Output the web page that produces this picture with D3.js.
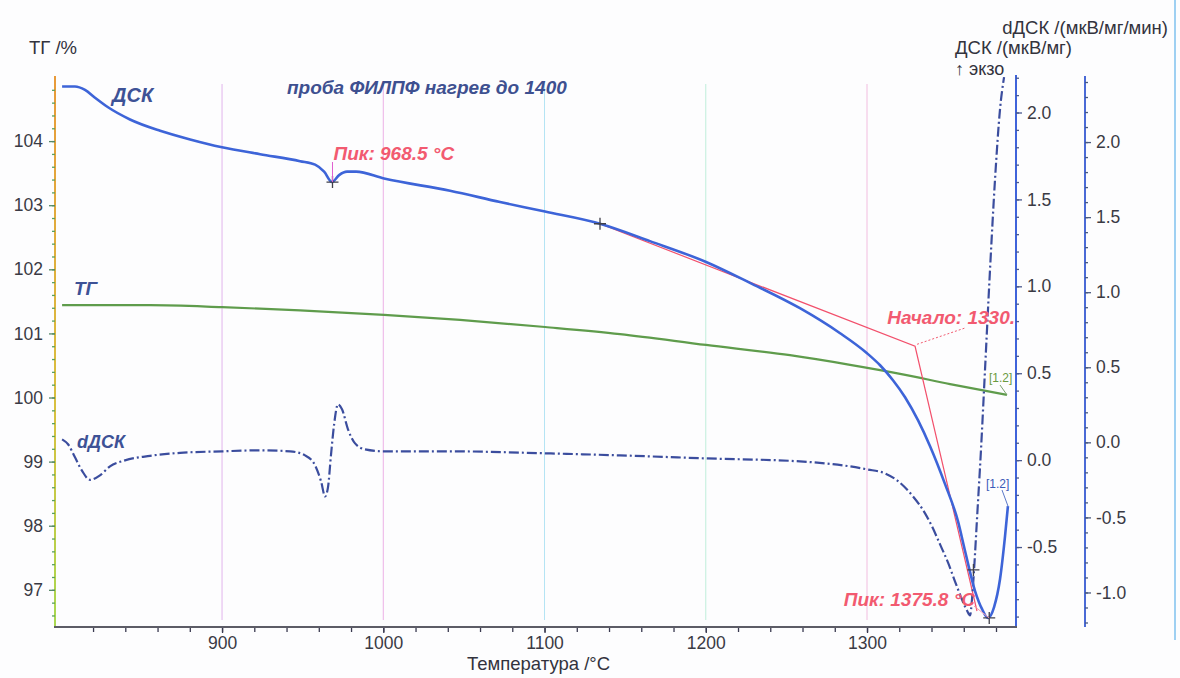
<!DOCTYPE html>
<html>
<head>
<meta charset="utf-8">
<script src="https://cdn.jsdelivr.net/npm/d3@7"></script>
<style>
  body { margin: 0; background: #fdfdfe; }
  svg { display: block; font-family: "Liberation Sans", Arial, sans-serif; }
</style>
</head>
<body>
<div id="chart"></div>
<script>
// Temperature (°C) / value pairs.
var dscT = [800.8, 808.8, 815.0, 821.2, 829.3, 842.9, 861.6, 880.2, 900, 923.6, 948.4, 957.7, 963.3, 968.2, 972.6,
    977.5, 983.1, 1000.5, 1041.4, 1072.4, 1100.3, 1134.4, 1165.4, 1200.2, 1227.4, 1258.4, 1283.3, 1300,
    1308.1, 1316.1, 1323.6, 1331.6, 1339.1, 1348.4, 1356.4, 1360.8, 1367.0, 1371.3, 1375.0, 1378.8, 1382.5, 1385.6, 1387.4];
var dscV = [2.15, 2.15, 2.13, 2.085, 2.03, 1.96, 1.895, 1.845, 1.80, 1.76, 1.72, 1.70, 1.66, 1.60, 1.64,
    1.66, 1.66, 1.62, 1.55, 1.485, 1.43, 1.36, 1.26, 1.14, 1.02, 0.874, 0.730, 0.615,
    0.546, 0.460, 0.362, 0.230, 0.080, -0.138, -0.351, -0.523, -0.753, -0.856, -0.908, -0.845, -0.684, -0.437, -0.264];

var ddscT = [800.8, 804.5, 808.8, 813.2, 818.1, 824.3, 830.5, 839.8, 855.3, 874.0, 900, 923.6, 942.2, 951.5, 957.7,
    961.4, 963.9, 965.7, 967.6, 969.5, 971.9, 974.4, 978.1, 982.5, 988.7, 1000.5, 1041.4, 1100.3, 1146.8, 1200.2,
    1258.4, 1300, 1311.2, 1318.6, 1328.5, 1336.0, 1340.3, 1345.3, 1350.2, 1354.6, 1358.9, 1362.0, 1363.9, 1365.1,
    1366.4, 1368.2, 1370.7, 1373.2, 1376.3, 1379.4, 1382.5, 1385.0];
var ddscV = [0.02, -0.013, -0.10, -0.19, -0.25, -0.22, -0.16, -0.12, -0.09, -0.07, -0.06, -0.053, -0.06, -0.087, -0.153,
    -0.26, -0.36, -0.30, -0.08, 0.12, 0.253, 0.22, 0.087, -0.007, -0.047, -0.06, -0.06, -0.073, -0.087, -0.107,
    -0.127, -0.18, -0.207, -0.253, -0.36, -0.473, -0.56, -0.68, -0.80, -0.927, -1.047, -1.12, -1.153, -1.047,
    -0.847, -0.513, -0.047, 0.487, 1.153, 1.753, 2.22, 2.433];

var tgT = [800.8, 855.3, 900, 948.4, 1000.5, 1047.6, 1100.3, 1146.8, 1200.2, 1252.2, 1289.5, 1320.5, 1351.5, 1386.8];
var tgV = [101.44, 101.44, 101.41, 101.36, 101.29, 101.21, 101.10, 100.99, 100.82, 100.66, 100.51, 100.37, 100.21, 100.04];

// onset construction (DSC units): tangent point, onset, end of second tangent
var tangentT = [1134.4, 1329.8, 1368.2];
var tangentV = [1.36, 0.655, -0.868];

var xTicks = [900, 1000, 1100, 1200, 1300];
var tgTicks = [97, 98, 99, 100, 101, 102, 103, 104];
var dscTicks = [-0.5, 0.0, 0.5, 1.0, 1.5, 2.0];
var ddscTicks = [-1.0, -0.5, 0.0, 0.5, 1.0, 1.5, 2.0];
var gridColors = ['#e2b4ec', '#ecb0e6', '#b4e4f4', '#bfeedb', '#f2bde0'];

var W = 1180, H = 678;
var svg = d3.select('#chart').append('svg').attr('width', W).attr('height', H);
svg.append('rect').attr('width', W).attr('height', H).attr('fill', '#fdfdfe');

var x = d3.scaleLinear().domain([796.4, 1392.4]).range([55, 1016]);
var yTG = d3.scaleLinear().domain([96.42, 105.0]).range([627, 77]);
var yDSC = d3.scaleLinear().domain([-0.96, 2.21]).range([627, 76]);
var yDD = d3.scaleLinear().domain([-1.23, 2.44]).range([627, 76]);

function range(a, b, s) {
    var out = [];
    for (var v = a; v <= b + 1e-9; v += s) out.push(+v.toFixed(3));
    return out;
}
var fmt1 = d => d.toFixed(1); // plain hyphen for negatives, as in the scan

// vertical grid lines
svg.selectAll('.grid').data(xTicks).enter().append('line')
    .attr('x1', d => x(d)).attr('x2', d => x(d))
    .attr('y1', 84).attr('y2', 620)
    .attr('stroke', (d, i) => gridColors[i]).attr('stroke-width', 1);

// right-edge frame line of the window
svg.append('line').attr('x1', 1175).attr('x2', 1175).attr('y1', 0).attr('y2', 640)
    .attr('stroke', '#9fd0f2').attr('stroke-width', 2);

// left axis gradient
var defs = svg.append('defs');
var grad = defs.append('linearGradient').attr('id', 'lgrad').attr('x1', 0).attr('x2', 0).attr('y1', 0).attr('y2', 1);
grad.append('stop').attr('offset', '0%').attr('stop-color', '#e89a3a');
grad.append('stop').attr('offset', '60%').attr('stop-color', '#d8c040');
grad.append('stop').attr('offset', '100%').attr('stop-color', '#a8d850');

function styleAxis(g, color) {
    g.select('.domain').remove();
    g.selectAll('.tick line').attr('stroke', color).attr('stroke-width', 1.3);
    g.selectAll('.tick text').attr('fill', '#3a3a44').style('font-size', '17.5px');
}

// Left axis (TG %)
svg.append('rect').attr('x', 54).attr('y', 76).attr('width', 2).attr('height', 551).attr('fill', 'url(#lgrad)');
svg.append('g').attr('transform', 'translate(55,0)')
    .call(d3.axisLeft(yTG).tickValues(range(96.6, 104.8, 0.2)).tickSize(3).tickFormat(''))
    .call(g => styleAxis(g, '#5aa060'));
svg.append('g').attr('transform', 'translate(55,0)')
    .call(d3.axisLeft(yTG).tickValues(tgTicks).tickSize(6).tickPadding(6).tickFormat(d3.format('d')))
    .call(g => styleAxis(g, '#558866'));

// Right axis 1 (DSC)
svg.append('line').attr('x1', 1016).attr('x2', 1016).attr('y1', 75).attr('y2', 628)
    .attr('stroke', '#3f63da').attr('stroke-width', 2);
svg.append('g').attr('transform', 'translate(1016,0)')
    .call(d3.axisRight(yDSC).tickValues(range(-0.9, 2.2, 0.1)).tickSize(3).tickFormat(''))
    .call(g => styleAxis(g, '#4a5a90'));
svg.append('g').attr('transform', 'translate(1016,0)')
    .call(d3.axisRight(yDSC).tickValues(dscTicks).tickSize(6).tickPadding(5).tickFormat(fmt1))
    .call(g => styleAxis(g, '#4a5a90'));

// Right axis 2 (dDSC)
svg.append('line').attr('x1', 1085).attr('x2', 1085).attr('y1', 76).attr('y2', 627)
    .attr('stroke', '#4a6ad6').attr('stroke-width', 2);
svg.append('g').attr('transform', 'translate(1085,0)')
    .call(d3.axisRight(yDD).tickValues(range(-1.2, 2.4, 0.1)).tickSize(3).tickFormat(''))
    .call(g => styleAxis(g, '#4a5a80'));
svg.append('g').attr('transform', 'translate(1085,0)')
    .call(d3.axisRight(yDD).tickValues(ddscTicks).tickSize(6).tickPadding(5).tickFormat(fmt1))
    .call(g => styleAxis(g, '#4a5a80'));

// Bottom axis
svg.append('line').attr('x1', 54).attr('x2', 1017).attr('y1', 627).attr('y2', 627)
    .attr('stroke', '#5c5c66').attr('stroke-width', 2.2);
svg.append('g').attr('transform', 'translate(0,628)')
    .call(d3.axisBottom(x).tickValues(range(820, 1380, 20)).tickSize(4).tickFormat(''))
    .call(g => styleAxis(g, '#3a3a50'));
svg.append('g').attr('transform', 'translate(0,628)')
    .call(d3.axisBottom(x).tickValues(xTicks).tickSize(5).tickPadding(4).tickFormat(d3.format('d')))
    .call(g => styleAxis(g, '#3a3a50'));

// Curves
var tgLine = d3.line().x((d, i) => x(tgT[i])).y(d => yTG(d)).curve(d3.curveMonotoneX);
var dscLine = d3.line().x((d, i) => x(dscT[i])).y(d => yDSC(d)).curve(d3.curveMonotoneX);
var ddLine = d3.line().x((d, i) => x(ddscT[i])).y(d => yDD(d)).curve(d3.curveMonotoneX);

svg.append('path').attr('d', tgLine(tgV)).attr('fill', 'none')
    .attr('stroke', '#5f9c4c').attr('stroke-width', 2.2);

// Onset tangents
var tanLine = d3.line().x((d, i) => x(tangentT[i])).y(d => yDSC(d));
svg.append('path').attr('d', tanLine(tangentV)).attr('fill', 'none')
    .attr('stroke', '#f2506c').attr('stroke-width', 1.2);

svg.append('path').attr('d', ddLine(ddscV)).attr('fill', 'none')
    .attr('stroke', '#3b4d9e').attr('stroke-width', 2.2)
    .attr('stroke-dasharray', '10,3,2,3');

svg.append('path').attr('d', dscLine(dscV)).attr('fill', 'none')
    .attr('stroke', '#3d64d8').attr('stroke-width', 2.6);

// Cross markers
var crosses = [
    { px: x(968.5), py: yDSC(1.60) },
    { px: x(tangentT[0]), py: yDSC(tangentV[0]) },
    { px: x(1375.8), py: yDSC(-0.908) },
    { px: x(1366.0), py: yDD(-0.85) }
];
svg.selectAll('.cross').data(crosses).enter().append('path')
    .attr('d', d => 'M' + (d.px - 6) + ',' + d.py + 'H' + (d.px + 6) + 'M' + d.px + ',' + (d.py - 6) + 'V' + (d.py + 6))
    .attr('stroke', '#40404a').attr('stroke-width', 1.3);

// Annotation connectors
var red = '#f25a70';
svg.append('line').attr('x1', x(968.5)).attr('x2', x(968.5)).attr('y1', 162).attr('y2', yDSC(1.60))
    .attr('stroke', '#e060d0').attr('stroke-width', 1);
svg.append('line').attr('x1', x(tangentT[1]) + 2).attr('y1', yDSC(tangentV[1]) - 2).attr('x2', 965).attr('y2', 328)
    .attr('stroke', red).attr('stroke-width', 1).attr('stroke-dasharray', '2,2');
svg.append('line').attr('x1', 974).attr('y1', 606).attr('x2', x(1375.8)).attr('y2', yDSC(-0.908))
    .attr('stroke', '#f4a0b0').attr('stroke-width', 1);
svg.append('line').attr('x1', 1000).attr('y1', 385).attr('x2', x(tgT[tgT.length - 1])).attr('y2', yTG(tgV[tgV.length - 1]))
    .attr('stroke', '#7aa070').attr('stroke-width', 1);
svg.append('line').attr('x1', 1002).attr('y1', 490).attr('x2', x(dscT[dscT.length - 1])).attr('y2', yDSC(dscV[dscV.length - 1]))
    .attr('stroke', '#5a78c8').attr('stroke-width', 1);

// Texts
function label(tx, ty, s, opts) {
    opts = opts || {};
    return svg.append('text').attr('x', tx).attr('y', ty).text(s)
        .attr('fill', opts.fill || '#33333d')
        .attr('text-anchor', opts.anchor || 'start')
        .style('font-size', (opts.size || 18) + 'px')
        .style('font-weight', opts.bold ? 'bold' : 'normal')
        .style('font-style', opts.italic ? 'italic' : 'normal');
}

label(29, 54, 'ТГ /%', { size: 18.5 });
label(1168, 34, 'dДСК /(мкВ/мг/мин)', { anchor: 'end', size: 18.5 });
label(955, 54, 'ДСК /(мкВ/мг)', { size: 18.5 });
label(955, 75, '↑ экзо', { size: 18 });
label(x(1100) - 6, 670, 'Температура /°C', { anchor: 'middle', size: 18.5 });

label(112, 102, 'ДСК', { size: 20, bold: true, italic: true, fill: '#3e5296' });
label(287, 94, 'проба ФИЛПФ нагрев до 1400', { size: 19, bold: true, italic: true, fill: '#3e5090' });
label(74, 295, 'ТГ', { size: 19, bold: true, italic: true, fill: '#3e5296' });
label(77, 448, 'dДСК', { size: 18, bold: true, italic: true, fill: '#3e5296' });

label(x(968.5) + 1, 160, 'Пик: 968.5 °C', { size: 19, bold: true, italic: true, fill: red });
label(1015, 324, 'Начало: 1330.', { anchor: 'end', size: 19, bold: true, italic: true, fill: red });
label(975, 606, 'Пик: 1375.8 °C', { anchor: 'end', size: 19, bold: true, italic: true, fill: red });

label(989, 382, '[1.2]', { size: 12, fill: '#6a9a40' });
label(986, 488, '[1.2]', { size: 12, fill: '#3a5ab8' });
</script>
</body>
</html>
